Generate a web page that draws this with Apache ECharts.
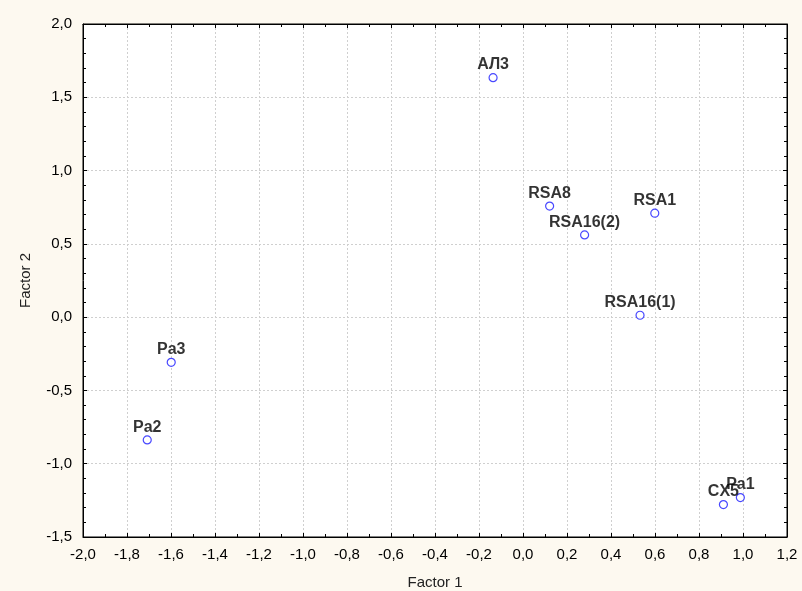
<!DOCTYPE html>
<html>
<head>
<meta charset="utf-8">
<script src="https://cdn.jsdelivr.net/npm/echarts@6/dist/echarts.min.js"></script>
<style>
  html, body { margin: 0; padding: 0; background: #fdf9f0; }
  #chart { width: 802px; height: 591px; }
</style>
</head>
<body>
<div id="chart"></div>
<script>
// point names and factor scores
const names = ["АЛ3", "RSA8", "RSA1", "RSA16(2)", "RSA16(1)", "Pa3", "Pa2", "Pa1", "CX5"];
const factor1 = [-0.136, 0.121, 0.599, 0.280, 0.532, -1.599, -1.708, 0.988, 0.911];
const factor2 = [1.634, 0.758, 0.709, 0.561, 0.013, -0.308, -0.838, -1.231, -1.279];

const fmt = (v) => v.toFixed(1).replace(".", ",");

const chart = echarts.init(document.getElementById("chart"));

const points = names.map((n, i) => ({ name: n, value: [factor1[i], factor2[i]] }));

const textFont = "Liberation Sans, Arial, sans-serif";

const baseX = {
  type: "value",
  min: -2,
  max: 1.2,
  interval: 0.2,
  axisLine: { show: true, onZero: false, lineStyle: { color: "#000", width: 1 } },
  axisTick: { show: true, inside: true, length: 4, lineStyle: { color: "#000" } },
  minorTick: { show: true, splitNumber: 2, length: 3, lineStyle: { color: "#000" } },
};
const baseY = {
  type: "value",
  min: -1.5,
  max: 2,
  interval: 0.5,
  axisLine: { show: true, onZero: false, lineStyle: { color: "#000", width: 1 } },
  axisTick: { show: true, inside: true, length: 4, lineStyle: { color: "#000" } },
  minorTick: { show: true, splitNumber: 5, length: 3, lineStyle: { color: "#000" } },
};

const option = {
  backgroundColor: "#fdf9f0",
  animation: false,
  grid: {
    left: 83,
    right: 15,
    top: 24,
    bottom: 54,
    containLabel: false,
    outerBoundsMode: "none",
    show: true,
    backgroundColor: "#fff",
    borderColor: "#000",
    borderWidth: 1,
  },
  xAxis: [
    Object.assign({}, baseX, {
      position: "bottom",
      name: "Factor 1",
      nameLocation: "middle",
      nameGap: 38,
      nameTextStyle: { color: "#222", fontSize: 15, fontFamily: textFont },
      axisLabel: { formatter: fmt, color: "#000", fontSize: 15, fontFamily: textFont, margin: 10 },
      splitLine: { show: true, lineStyle: { color: "#cfcfcf", type: [2, 2], width: 1 } },
    }),
    Object.assign({}, baseX, {
      position: "top",
      axisLabel: { show: false },
      splitLine: { show: false },
    }),
  ],
  yAxis: [
    Object.assign({}, baseY, {
      position: "left",
      name: "Factor 2",
      nameLocation: "middle",
      nameGap: 50,
      nameTextStyle: { color: "#222", fontSize: 15, fontFamily: textFont },
      axisLabel: { formatter: fmt, color: "#000", fontSize: 15, fontFamily: textFont, margin: 11 },
      splitLine: { show: true, lineStyle: { color: "#cfcfcf", type: [2, 2], width: 1 } },
    }),
    Object.assign({}, baseY, {
      position: "right",
      axisLabel: { show: false },
      splitLine: { show: false },
    }),
  ],
  series: [
    {
      type: "scatter",
      data: points,
      symbol: "circle",
      symbolSize: 8,
      itemStyle: { color: "#fff", borderColor: "#1a1aff", borderWidth: 1.2 },
      label: {
        show: true,
        position: "top",
        distance: 0,
        formatter: "{b}",
        color: "#000",
        fontSize: 16,
        fontWeight: "bold",
        fontFamily: textFont,
      },
    },
  ],
};

chart.setOption(option);
</script>
</body>
</html>
